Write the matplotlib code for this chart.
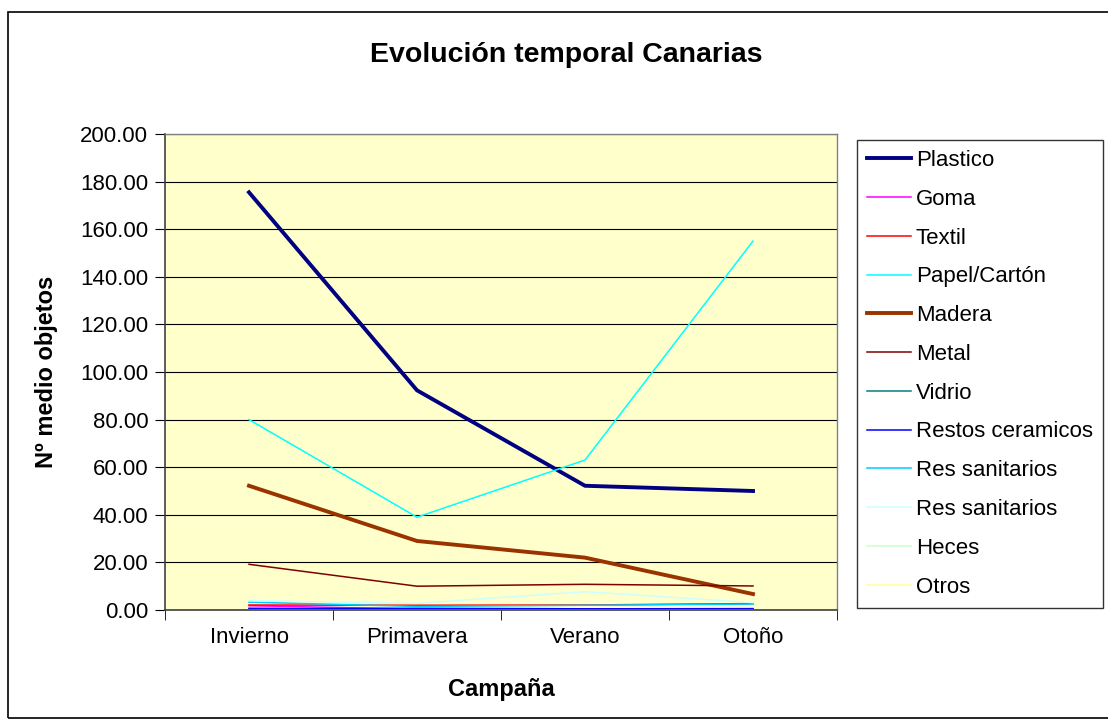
import matplotlib.pyplot as plt
from matplotlib.patches import Rectangle

plt.rcParams['font.family'] = ['Liberation Sans', 'DejaVu Sans']

campanas = ['Invierno', 'Primavera', 'Verano', 'Otoño']

plastico = [175.5, 92.3, 52.2, 50.0]
goma = [1.8, 0.4, 0.5, 0.6]
textil = [2.1, 2.0, 2.1, 2.7]
papel = [80.0, 39.0, 63.0, 155.0]
madera = [52.2, 29.0, 22.0, 6.7]
metal = [19.2, 10.0, 10.8, 10.1]
vidrio = [0.8, 0.3, 0.3, 0.3]
ceramicos = [0.5, 0.7, 0.5, 0.5]
sanitarios_1 = [3.3, 1.5, 2.0, 2.5]
sanitarios_2 = [3.9, 2.8, 7.7, 3.1]
heces = [0.1, 0.1, 0.1, 0.1]
otros = [0.0, 0.0, 0.0, 0.0]

series = [
    ('Plastico', plastico, '#000080', 2.8),
    ('Goma', goma, '#FF00FF', 1.1),
    ('Textil', textil, '#FF0000', 1.1),
    ('Papel/Cartón', papel, '#00FFFF', 1.1),
    ('Madera', madera, '#993300', 2.8),
    ('Metal', metal, '#800000', 1.1),
    ('Vidrio', vidrio, '#008080', 1.1),
    ('Restos ceramicos', ceramicos, '#0000FF', 1.1),
    ('Res sanitarios', sanitarios_1, '#00CCFF', 1.1),
    ('Res sanitarios', sanitarios_2, '#CCFFFF', 1.1),
    ('Heces', heces, '#CCFFCC', 1.1),
    ('Otros', otros, '#FFFF99', 1.1),
]

fig = plt.figure(figsize=(11.08, 7.22), dpi=100)
ax = fig.add_axes([165/1108, 1-610/722, (837-165)/1108, (610-134)/722])
ax.set_facecolor('#FFFFCC')

x = list(range(len(campanas)))
for name, vals, col, lw in series:
    ax.plot(x, vals, color=col, lw=lw, label=name, solid_joinstyle='miter')

ax.set_xlim(-0.5, 3.5)
ax.set_ylim(0, 200)
ax.set_yticks(range(0, 201, 20))
ax.set_yticklabels(['%.2f' % v for v in range(0, 201, 20)], fontsize=16)
ax.set_xticks(x)
ax.set_xticklabels(campanas, fontsize=16)
ax.tick_params(axis='x', length=0, pad=12)
ax.set_xticks([-0.5, 0.5, 1.5, 2.5, 3.5], minor=True)
ax.tick_params(axis='x', which='minor', length=7, direction='out', color='black')
ax.tick_params(axis='y', length=7, direction='out', pad=5)
ax.grid(axis='y', color='black', lw=0.8)
ax.set_axisbelow(True)
for s in ['top', 'right']:
    ax.spines[s].set_color('#808080')
    ax.spines[s].set_linewidth(1.0)
for s in ['left', 'bottom']:
    ax.spines[s].set_color('#404040')
    ax.spines[s].set_linewidth(1.2)

ax.set_xlabel('Campaña', fontsize=17, fontweight='bold', labelpad=22)
ax.set_ylabel('Nº medio objetos', fontsize=17, fontweight='bold', labelpad=16)
fig.text(566/1108, 1-55/722, 'Evolución temporal Canarias', fontsize=20.5,
         fontweight='bold', ha='center', va='center')

leg = ax.legend(loc='upper left', bbox_to_anchor=(857/1108, 1-140/722),
                bbox_transform=fig.transFigure, fontsize=16, frameon=True,
                fancybox=False, edgecolor='black', handlelength=2.0,
                handletextpad=0.2, labelspacing=0.8, borderpad=0.45,
                borderaxespad=0)
leg.get_frame().set_linewidth(1.0)

fig.patches.append(Rectangle((8/1108, 1-718/722), 1.2, (718-12)/722,
                             transform=fig.transFigure, fill=False,
                             edgecolor='black', lw=1.2))

fig.savefig('out.png', dpi=100)
